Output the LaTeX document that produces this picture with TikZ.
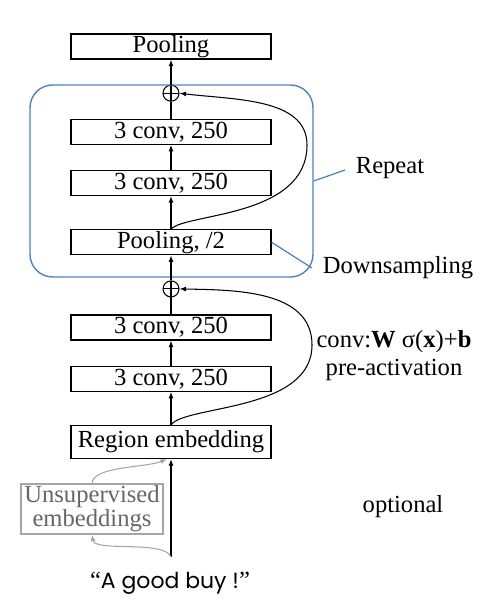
\documentclass[tikz,border=0pt]{standalone}
\usepackage{fontspec}
\setmainfont{Liberation Serif}
\newfontfamily\quotefont{Poppins}
\usepackage{tikz}
\usetikzlibrary{arrows.meta,positioning}
\definecolor{repblue}{RGB}{79,129,189}
\definecolor{optgray}{RGB}{165,165,165}

\begin{document}
\begin{tikzpicture}[
  x=0.02cm, y=-0.02cm,
  font=\fontsize{14}{16}\selectfont,
  layer/.style={draw, line width=0.7pt, minimum width=4cm, minimum height=5mm,
                inner sep=0pt},
  addop/.style={draw, circle, line width=0.6pt, minimum size=3.2mm, inner sep=0pt,
                path picture={\draw[line width=0.6pt]
                  (path picture bounding box.north) -- (path picture bounding box.south)
                  (path picture bounding box.west) -- (path picture bounding box.east);}},
  optbox/.style={draw=optgray, line width=0.7pt, align=center, text=black!60,
                 minimum width=2.84cm, minimum height=1cm, inner sep=0pt,
                 font=\fontsize{14}{12}\selectfont},
  arr/.style={-{Latex[length=1.3mm,width=1mm]}, line width=0.6pt},
  link/.style={line width=0.6pt},
  skip/.style={-{Latex[length=1.3mm,width=1mm]}, line width=0.6pt},
  callout/.style={draw=repblue, line width=0.7pt}
]
\useasboundingbox (0,0) rectangle (498,614);
% main column, bottom to top
\node[layer, minimum height=6.6mm] (re) at (171,442) {Region embedding};
\node[layer, above=6.6mm of re] (c4) {3 conv, 250};
\node[layer, above=5mm of c4] (c3) {3 conv, 250};
\node[addop, above=3.4mm of c3] (p1) {};
\node[layer, above=5mm of p1] (pool2) {Pooling, /2};
\node[layer, above=6.6mm of pool2] (c2) {3 conv, 250};
\node[layer, above=5mm of c2] (c1) {3 conv, 250};
\node[addop, above=3.4mm of c1] (p2) {};
\node[layer, above=5mm of p2] (pool) {Pooling};
% repeated block
\node[draw=repblue, line width=0.8pt, rounded corners=0.45cm,
      minimum width=5.66cm, minimum height=3.84cm] (rep) at (171.5,181) {};
% input side
\node (in) at (170,583) {``{\quotefont\fontsize{12.5}{14}\selectfont A good buy !}''};
\coordinate (src) at (171,557);
\node[optbox] (un) at (92,509) {Unsupervised\\embeddings};
% labels
\node (rp) at (390,168) {Repeat};
\node (ds) at (398,268) {Downsampling};
\node[align=center, font=\fontsize{14}{16}\selectfont] (cv) at (394,356)
      {conv:\textbf{W} σ(\textbf{x})+\textbf{b}\\pre-activation};
\node (opt) at (403,507) {optional};
% spine
\foreach \a/\b in {re/c4,c4/c3,p1/pool2,pool2/c2,c2/c1,p2/pool}\draw[arr](\a)--(\b);
\foreach \a/\b in {c3/p1,c1/p2}\draw[link](\a)--(\b);
\draw[arr] (src) -- (re.south);
% shortcuts
\draw[skip] (re.north) .. controls (185,405) and (312,412) .. (312,345)
            .. controls (312,290) and (235,290) .. (p1.east);
\draw[skip] (pool2.north) .. controls (185,213) and (307,218) .. (307,145)
            .. controls (307,98) and (235,100) .. (p2.east);
% optional unsupervised embeddings
\draw[arr, optgray] (src) .. controls (165,540) and (95,552) .. (un.south);
\draw[arr, optgray] (un.north) .. controls (93,466) and (145,468) .. ([xshift=-0.8mm]re.south);
% callouts
\draw[callout] (rep.east) -- (345,170);
\draw[callout] (pool2.east) -- (312,268);
\end{tikzpicture}
\end{document}
